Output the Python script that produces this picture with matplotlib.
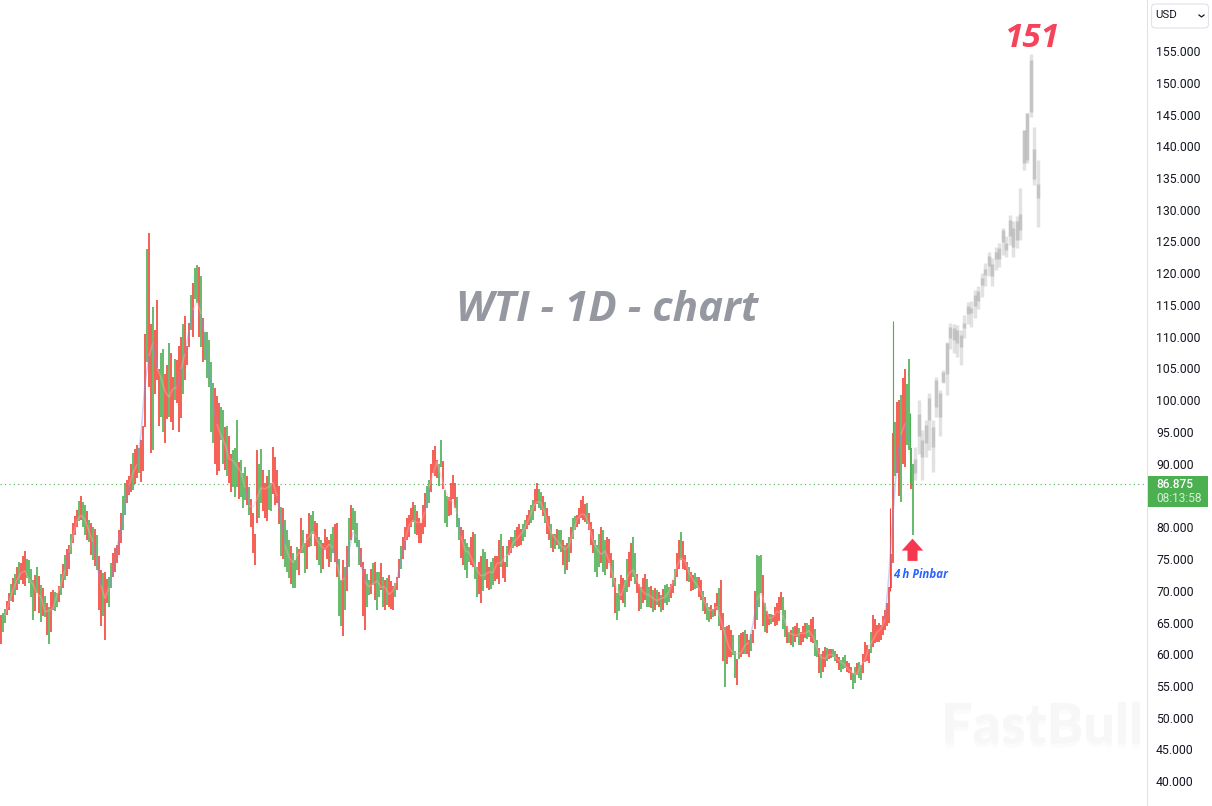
import matplotlib
matplotlib.use("Agg")
import matplotlib.pyplot as plt
import matplotlib.patheffects as pe
import numpy as np
from matplotlib.patches import FancyBboxPatch, Rectangle

# WTI daily bars, every 4 px
highs = [
    66.2, 67.2, 69.6, 72.0, 73.8, 74.3, 76.2, 74.8, 71.7, 73.8, 70.9, 69.1, 67.5, 70.1, 69.6, 72.7, 75.6, 77.2, 80.6, 82.7,
    84.9, 83.5, 81.2, 80.1, 78.8, 73.3, 73.0, 72.2, 75.9, 77.2, 82.2, 86.9, 88.0, 91.7, 93.0, 93.8,
    110.5, 126.3, 114.7, 115.8, 107.4, 104.2, 109, 103.7, 106.3, 110, 113.2, 112.1, 118.4, 121.3, 119.5, 110.8, 109.5, 102.7, 100.6, 99,
    95.8, 94.3, 92.2, 96.9, 90.6, 89.5,
    86.4, 82.2, 92.2, 92.4, 86.9, 89, 92.7, 89, 83.2, 81.2, 78, 75.9, 76.9, 81.4, 77.5, 82.2, 82.5, 80.6, 78, 79.8,
    78, 80.1, 80.6, 71.7, 73.8, 81.4, 83, 80.6, 76.7, 73.5, 71.7, 74.3, 73, 74.3, 71.7, 72.5, 70.7, 72.2, 77, 80.1,
    81.9, 84, 82.5, 80.6, 85.4, 87.5, 92.2, 90.6,
    93.8, 85.9, 84.8, 88.2, 84.8, 80.1, 78.2, 76.9, 79.3, 73.8, 75.4, 76.1, 73.8, 75.1, 75.4, 79, 74.6, 78, 78.5, 80.1,
    79.8, 81.1, 82.7, 84.3, 86.9, 85.6, 84, 81.7, 79, 79.8, 79.5, 77.2, 78.5, 81.4, 81.9, 84.3, 83.7, 82.2, 79.8, 77.2,
    80.1, 78, 78.2, 74.8, 69.6, 72.5, 71.7, 76.1, 78.5, 72.7, 70.6, 72.7, 70.6, 70.1, 70.1,
    69.3, 70.9, 70.6, 71.7, 75.9, 79.3, 75.6, 73.8, 72.5, 72.2, 71.7, 69, 67.5, 67.2, 69.6, 71.7, 64.3, 64.6, 63, 59.3,
    63.3, 63.8, 62.2, 63.8, 75.6, 75.6, 68, 66.4, 66.2, 68, 69.8, 66.9, 63.5, 64.3, 64.9, 63.5, 64.9, 64.6, 65.9, 62.2,
    60.1, 61.2, 60.9, 60.9, 60.1, 59.1, 59.9, 58.6, 57, 58.6, 58.3, 62, 60.9, 66.2, 64.6, 64.6, 66.9, 70.6,
    94.8, 99.8, 100.8, 105, 106.5, 90,
]
lows = [
    61.6, 64.9, 67.0, 68.3, 70.1, 71.7, 70.7, 71.2, 65.4, 69.6, 65.1, 65.9, 61.6, 67.0, 67.5, 69.3, 71.7, 73.5, 77.5, 80.1,
    81.2, 78.8, 77.7, 74.9, 73.3, 64.4, 62.3, 67.5, 72.2, 74.3, 77.5, 81.9, 85.1, 85.9, 87.7, 87.2,
    95.8, 102.1, 92.2, 103.2, 97.4, 93.2, 97.4, 95.3, 99.5, 97.2, 103.2, 108.4, 110, 115.3, 108.4, 106.3, 102.1, 93.2, 88.3, 93.7,
    89, 86.9, 86.4, 86.4, 84.8, 84.3,
    81.9, 75.9, 80.6, 83.8, 81.4, 82.7, 85.3, 83.8, 75.4, 73.8, 72, 70.4, 73.3, 75.9, 72.8, 76.9, 79, 74.9, 72.8, 76.4,
    73.8, 75.9, 72.2, 64.4, 67, 73.8, 79.6, 76.9, 73.8, 63.8, 69.3, 70.9, 67, 70.1, 67, 67.5, 67, 70.1, 73.5, 76.4,
    78.5, 80.9, 78.8, 77.5, 80.1, 83.8, 88.5, 87.7,
    89.5, 80.6, 81.7, 84.5, 80.1, 75.1, 73.2, 74.6, 73.8, 69, 68, 71.7, 70.1, 70.9, 71.9, 73.8, 71.4, 75.6, 76.7, 76.9,
    77.2, 78.5, 80.3, 81.1, 83.7, 82.7, 80.6, 78, 76.1, 77.2, 76.1, 72.7, 74.6, 78.2, 80.1, 81.4, 80.9, 79.5, 75.9, 72.2,
    74.3, 72.5, 74.3, 70.6, 65.4, 68.5, 67.5, 70.6, 72.2, 69.6, 67.2, 68.5, 67.5, 66.7, 67.7,
    66.7, 68, 68.3, 69.6, 72.2, 74.8, 73.2, 71.4, 70.1, 70.4, 68.5, 66.4, 65.1, 65.9, 66.9, 63.8, 54.9, 59.6, 59.9, 55.1,
    59.6, 60.1, 59.6, 61.7, 65.4, 69.6, 63.5, 64.6, 65.1, 64.6, 66.9, 62.7, 61.7, 61.2, 62.7, 61.4, 62.5, 62.7, 61.7, 59.6,
    56.2, 58, 59.3, 59.6, 58.6, 57.2, 57.8, 57, 54.6, 56.7, 55.9, 58.8, 58.6, 61.2, 62, 62.2, 63.8, 64.9,
    74.3, 88.5, 84, 89.5, 92.2, 78.8,
]
bar_sides = (
    "rgrrrrrggg" "gggrgggrrr" "rggggrrgrr" "rgrgrr"
    "rrgrgrgrrr" "rrrgggggrg" "rrgggg"
    "grrgrgrrgg" "gggrgrgrgr" "rgrgggggrr" "gggrrrrrgr" "rrrrrgrr"
    "ggrrgrggrg" "rgrgrgrrgr" "rgrgrggrrr" "ggggrrrrrg" "rgrggrgrgr" "grggg"
    "gggrrgrgrg" "rrggrrgrgr" "rgrrgggrrr" "rgggrrrgrg" "grrgrggrgr" "grrrrrrr"
    "rrgrgg"
)

# the bars in between, 2 px to the right of the ones above
highs_b = [
    66.5, 68.4, 71.0, 72.6, 74.6, 75.4, 75.0, 73.5, 72.5, 72.3, 70.5, 68.0, 69.8, 69.8, 70.8, 74.2, 76.5, 79.0, 81.8, 84.2,
    84.0, 82.5, 80.6, 79.8, 75.5, 72.8, 71.9, 74.3, 76.8, 79.6, 85.0, 87.5, 90.0, 92.3, 92.5, 96.0,
    123.8, 112, 111, 105, 108, 105.5, 107.5, 106.5, 108.5, 112, 108.5, 116.5, 120.8, 121, 113, 110.8, 106, 102, 99.5, 98.5,
    96, 91.5, 92.5, 90.2, 88.6, 88,
    84.5, 79, 90, 89, 88, 87, 91, 86.5, 83, 79.5, 77, 74.8, 76.5, 79.5, 79, 82, 81, 78.5, 77.5, 78.5,
    79, 80.5, 75, 74.8, 77, 83.5, 82.5, 78, 74.5, 72.6, 73.5, 74.5, 73, 72.2, 72, 71.5, 71.2, 75, 78.5, 81.5,
    83, 83.5, 81.5, 83.5, 86.5, 90, 92.8, 90,
    90.5, 85, 87, 87, 81.5, 79.5, 77.5, 78.5, 79, 74.5, 76.5, 75, 74.5, 75.5, 78, 77, 77, 78.5, 79.5, 80.5,
    80.5, 82, 83.5, 86, 86, 85, 83, 80.5, 79, 79.5, 78, 77.5, 80, 81.8, 83, 85, 83.8, 80.8, 78, 79,
    79.5, 78.5, 76, 72, 71, 72, 75, 77.5, 76, 71, 72, 71.8, 70.8, 70.5, 69.8,
    70.2, 71, 71, 73.5, 78, 77.8, 74.5, 73, 72.8, 72.2, 70, 68, 67.8, 68, 70.5, 66.5, 64.5, 63.8, 60.5, 63,
    63.5, 63.2, 63.2, 70, 75.5, 72.5, 66.8, 66.4, 67.5, 69, 69, 64.5, 63.8, 64.5, 64.2, 64.4, 64.9, 65.5, 64, 61,
    60.5, 61, 60.8, 60.5, 59.5, 59.5, 59, 58, 58, 58.8, 60, 61.5, 63.5, 65.5, 64.9, 66, 68, 75.8,
    96.5, 100, 103.5, 102.5, 92.5,
]
lows_b = [
    63.5, 66.2, 68.4, 69.4, 71.0, 71.0, 72.0, 69.0, 66.8, 66.5, 66.0, 63.0, 63.5, 66.8, 68.2, 70.5, 72.3, 75.8, 78.8, 81.0,
    80.0, 78.0, 75.6, 73.9, 67.0, 66.0, 68.0, 70.5, 73.0, 75.6, 79.5, 83.8, 85.5, 86.8, 88.5, 88.8,
    106, 91.7, 101, 96, 95, 97, 96.5, 100, 95, 101, 105.5, 111, 116, 110, 106, 103.5, 95, 90, 88.8, 90,
    88, 85.5, 84.8, 84.5, 83, 83.5,
    80, 74, 81.5, 82.5, 81, 82.5, 83.5, 80.5, 75, 73, 71, 70.5, 72.5, 76, 73.5, 77, 77, 74, 73.5, 75,
    74.5, 74.5, 66, 62.8, 70, 78, 77.5, 74, 66, 67.5, 69.5, 68.5, 69, 67.5, 67.8, 67.2, 69, 72, 75, 78,
    80, 79, 77.5, 79, 83, 85.5, 88, 86.5,
    86, 80, 82, 83, 78, 74, 72, 74, 71.8, 69.5, 70, 70.5, 70.2, 71.5, 71, 72, 73.8, 76, 77, 77,
    77.8, 79.8, 80.6, 82.5, 83, 81.8, 79, 76.8, 76.5, 76.5, 74, 73.2, 76, 79.5, 80.5, 81.2, 80.5, 77.2, 73, 73.8,
    73, 73.5, 72, 66.5, 66.8, 68, 69.8, 71.5, 71, 66.8, 68, 67.5, 67.3, 67, 67.5,
    67, 67.8, 68.8, 70.8, 73.5, 73.5, 71.5, 70, 70.2, 69, 66.8, 65.4, 65.5, 66, 64.5, 59, 58.5, 59.5, 56.2, 59.3,
    60, 60, 60.5, 64, 67.5, 64.5, 63.3, 64.8, 64.5, 65.3, 64, 61.8, 61.5, 62, 61.5, 62, 62.4, 62, 59.8, 57,
    57.2, 59, 59.4, 58.9, 57.5, 57.6, 57.2, 56, 55.5, 56.3, 57, 59, 60.2, 61.8, 61.9, 63, 64.5, 70.5,
    88, 85, 90, 93, 86,
]
bar_sides_b = (
    "grgggrggrr" "rrrgrrrgrg" "grrrrgrgrr" "grrrgr"
    "grrrgrrgrg" "rggrrggrrg" "grgrgr"
    "rrgrrgrrrg" "rgrgrgrgrr" "grgrrrggrg" "rrgggrgrrr" "rgrrgrrg"
    "rgrrgrgrgr" "grgrrrgrgr" "grgrgrrggg" "rrrgrrgrgg" "grrrgrgrgr" "rgrrr"
    "rgrgrrrrgr" "ggrrgrrrgg" "rrgrgrrgrr" "grrrgrgrgr" "rgrgrgrrgg" "rrgrrrrr"
    "grrgr"
)

# the long wicks at the top of the move
spike_days = [890, 893, 910]
spike_highs = [83.0, 112.5, 98.0]
spike_lows = [70.0, 83.3, 87.0]
spike_sides = ["r", "g", "g"]

# grey projected path
ghost_high = [92.7, 100, 95.3, 96.9, 101.1, 96.9, 103.7, 101.6, 104.8, 109.2, 112.2, 112, 111.8, 111, 113.4, 115.5, 115.6, 117.4,
              118, 120, 121.6, 123.4, 122.4, 124.2, 124.8, 127.2, 125.8, 129.2, 128.2, 129, 133.5, 142.6, 145.2, 154.6, 143, 137.8]
ghost_low = [87.4, 91.6, 87.4, 91.1, 92.2, 88.7, 97.4, 94.3, 102.7, 100.8, 108, 107.5, 106.8, 105.5, 109.8, 112, 111.5, 113,
             114.3, 116.2, 118, 119.5, 118, 120.5, 121, 122.8, 122.5, 124.5, 122.5, 124, 125.2, 136.3, 137.3, 144.6, 133.9, 127.3]
ghost_top = [90.7, 97.9, 93.7, 96.1, 100.3, 95.8, 103.2, 101.1, 104.5, 109, 111.6, 111.3, 111, 110.3, 112.2, 114.8, 114.6, 116.5,
             117.2, 119.3, 120.6, 122.7, 121.5, 123.4, 124, 126.8, 124.8, 128.4, 127.2, 128.2, 129.4, 142.6, 145.2, 153.6, 139.6, 134.1]
ghost_bottom = [88.6, 94.3, 91.1, 93.2, 96.9, 92.7, 99, 97.4, 102.9, 104.2, 109.8, 109.5, 109, 108.4, 111.3, 113.6, 113.7, 114.8,
                115.6, 118.1, 119.7, 121.2, 119.5, 122.3, 122.3, 125, 123.6, 125.8, 124.2, 125.3, 126.8, 137.3, 137.8, 145.4, 134.9, 131.8]

price_ticks = [p for p in range(40, 156, 5) if p != 85]
last_price = 86.875

RED = "#f44336"
GREEN = "#4caf50"
W, H = 1212, 806
AXIS_X = 1147

fig = plt.figure(figsize=(W / 100, H / 100), dpi=100)
ax = fig.add_axes([0, 0, AXIS_X / W, 1])
ax.set_xlim(0, AXIS_X)
ax.set_ylim(155 - (H - 51) / 6.35, 155 + 51 / 6.35)


def side_colors(sides):
    return [RED if s == "r" else GREEN for s in sides]


days = np.arange(len(highs)) * 4 + 1
days_b = np.arange(len(highs_b)) * 4 + 3
bars_b = ax.vlines(days_b, lows_b, highs_b, colors=side_colors(bar_sides_b), linewidth=1.2, capstyle="butt", zorder=3)
bars_a = ax.vlines(days, lows, highs, colors=side_colors(bar_sides), linewidth=1.2, capstyle="butt", zorder=3)
spikes = ax.vlines(spike_days, spike_lows, spike_highs, colors=side_colors(spike_sides),
                   linewidth=0.8, capstyle="butt", zorder=3)
for bars in (bars_a, bars_b, spikes):
    bars.set_snap(True)

# moving average, pink with blue on the steep parts
mid = (np.array(highs) + np.array(lows)) / 2
ma = np.convolve(mid, np.ones(3) / 3, mode="valid")
ma_x = days[1:-1]
for i in range(len(ma) - 1):
    steep = abs(ma[i + 1] - ma[i]) > 2.6
    ax.plot(ma_x[i:i + 2], ma[i:i + 2], color="#7c93f2" if steep else "#f9b4c0", alpha=0.4, lw=1.2,
            solid_capstyle="butt", zorder=4)

ghost_x = 915 + np.arange(len(ghost_high)) * 3.5
ax.vlines(ghost_x, ghost_low, ghost_high, colors="#bcbcbc", alpha=0.42, linewidth=2.5, capstyle="butt", zorder=2)
ax.vlines(ghost_x, ghost_bottom, ghost_top, colors="#a8a8a8", alpha=0.5, linewidth=2.5, capstyle="butt", zorder=2)

ax.axhline(last_price, color=GREEN, lw=0.8, linestyle=(0, (1, 3)), zorder=1)

# right price scale
ax.yaxis.tick_right()
ax.set_yticks(price_ticks)
ax.set_yticklabels([f"{p:.3f}" for p in price_ticks], fontfamily="Roboto", fontsize=8.8, color="#131722")
ax.tick_params(axis="y", length=0, pad=6.5)
ax.set_xticks([])
for side in ["top", "left", "bottom"]:
    ax.spines[side].set_visible(False)
ax.spines["right"].set_color("#e0e3eb")

# annotations
ax.text(607, 114.1, "WTI - 1D - chart", ha="center", va="center", fontfamily="Open Sans", fontweight="bold",
        fontstyle="italic", fontsize=30.3, color="#9598a1")
ax.text(1032, 157.0, "151", ha="center", va="center", fontfamily="Open Sans", fontweight="bold",
        fontstyle="italic", fontsize=24, color="#f7435a")
ax.text(920.5, 72.6, "4 h Pinbar", ha="center", va="center", fontfamily="Open Sans", fontweight="bold",
        fontstyle="italic", fontsize=8.3, color="#2962ff")
ax.annotate("", xy=(912.5, 78.2), xytext=(912.5, 74.7),
            arrowprops=dict(facecolor="#f7374f", edgecolor="none", width=7.2, headwidth=15.5, headlength=8.6, shrink=0))

# faint watermark with soft shadow
ax.text(1042, 48.5, "FastBull", ha="center", va="center", fontfamily="Lato", fontweight="black",
        fontsize=40, color="#f7f7f7", zorder=0,
        path_effects=[pe.SimplePatchShadow(offset=(0, -3), shadow_rgbFace="#000000", alpha=0.015), pe.Normal()])


# last price tag and currency button drawn in figure pixels
def fx(x):
    return x / W


def fy(y):
    return 1 - y / H


fig.add_artist(Rectangle((fx(1148), fy(507)), 60 / W, 31 / H, transform=fig.transFigure, facecolor=GREEN, edgecolor="none"))
fig.text(fx(1156), fy(484), f"{last_price:.3f}", va="center", fontfamily="Roboto", fontsize=8.6, fontweight="medium", color="white")
fig.text(fx(1156), fy(499), "08:13:58", va="center", fontfamily="Roboto", fontsize=8.6, color="#d5efd6")

fig.add_artist(FancyBboxPatch((1151.5, H - 28), 57, 24, boxstyle="round,pad=0,rounding_size=4", transform=None,
                              facecolor="white", edgecolor="#e0e3eb", linewidth=0.8))
fig.text(fx(1155), fy(15.5), "USD", va="center", fontfamily="Roboto", fontsize=8.2, color="#131722")
fig.add_artist(plt.Line2D([fx(1199), fx(1201.5), fx(1204)], [fy(15), fy(17), fy(15)], transform=fig.transFigure,
                          color="#131722", lw=0.9))

fig.savefig("out.png", dpi=100)
